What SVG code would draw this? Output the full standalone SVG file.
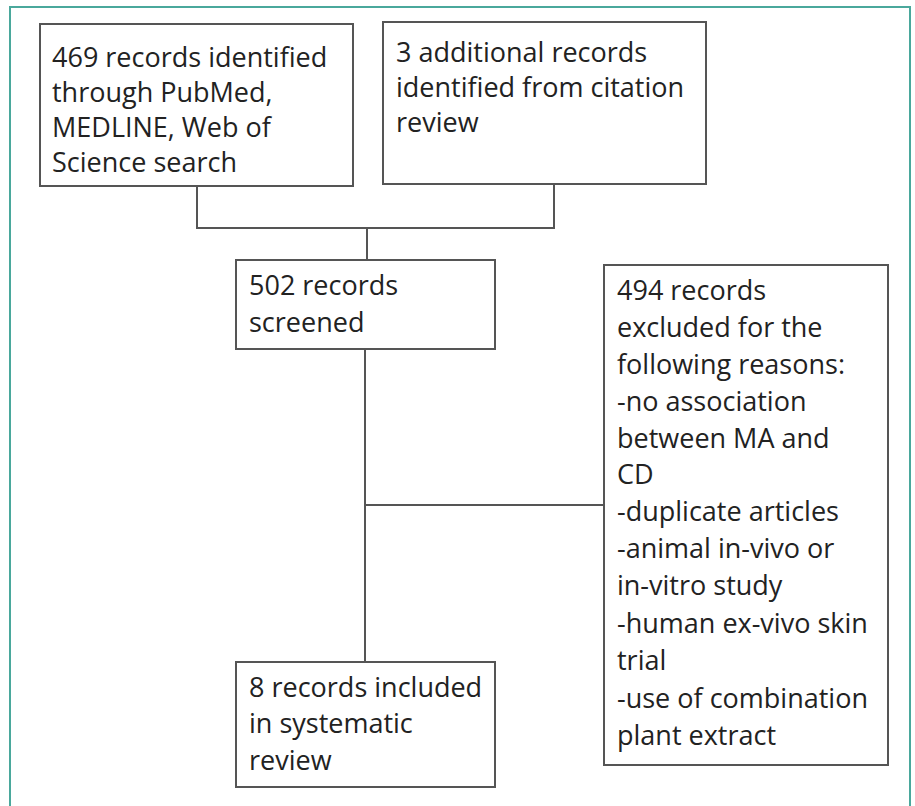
<svg xmlns="http://www.w3.org/2000/svg" width="915" height="806" viewBox="0 0 915 806">
<style>
.box{fill:#fff;stroke:#555;stroke-width:2}
.t{font-family:"Open Sans","Liberation Sans",sans-serif;font-size:27px;fill:#222}
.c{fill:none;stroke:#555;stroke-width:2}
</style>
<rect x="0" y="0" width="915" height="806" fill="#fff"/>
<path d="M10,820 V7 H910 V820" fill="none" stroke="#4aa89c" stroke-width="2"/>
<g id="connectors">
<path class="c" d="M197,186 V228 H554 V184"/>
<path class="c" d="M367,228 V260"/>
<path class="c" d="M365,349 V662"/>
<path class="c" d="M365,505 H604"/>
</g>
<g id="n1">
<rect class="box" x="40" y="24" width="313" height="162"/>
<text class="t" x="52" y="67">469 records identified</text>
<text class="t" x="52" y="102">through PubMed,</text>
<text class="t" x="52" y="137">MEDLINE, Web of</text>
<text class="t" x="52" y="172">Science search</text>
</g>
<g id="n2">
<rect class="box" x="383" y="22" width="323" height="162"/>
<text class="t" x="396" y="62">3 additional records</text>
<text class="t" x="396" y="97">identified from citation</text>
<text class="t" x="396" y="132">review</text>
</g>
<g id="n3">
<rect class="box" x="236" y="260" width="259" height="89"/>
<text class="t" x="249" y="295">502 records</text>
<text class="t" x="249" y="332">screened</text>
</g>
<g id="n4">
<rect class="box" x="604" y="265" width="284" height="500"/>
<text class="t" x="617" y="300">494 records</text>
<text class="t" x="617" y="337">excluded for the</text>
<text class="t" x="617" y="374">following reasons:</text>
<text class="t" x="617" y="411">-no association</text>
<text class="t" x="617" y="448">between MA and</text>
<text class="t" x="617" y="484">CD</text>
<text class="t" x="617" y="521">-duplicate articles</text>
<text class="t" x="617" y="558">-animal in-vivo or</text>
<text class="t" x="617" y="595">in-vitro study</text>
<text class="t" x="617" y="633">-human ex-vivo skin</text>
<text class="t" x="617" y="670">trial</text>
<text class="t" x="617" y="708">-use of combination</text>
<text class="t" x="617" y="745">plant extract</text>
</g>
<g id="n5">
<rect class="box" x="236" y="662" width="259" height="125"/>
<text class="t" x="249" y="697">8 records included</text>
<text class="t" x="249" y="733">in systematic</text>
<text class="t" x="249" y="770">review</text>
</g>
</svg>
